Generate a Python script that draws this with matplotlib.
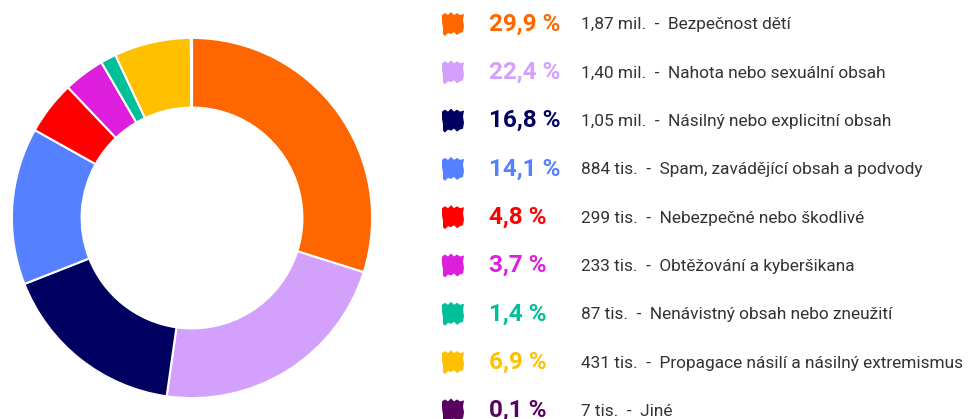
import matplotlib.pyplot as plt
from matplotlib.patches import Polygon

plt.rcParams['font.family'] = ['Roboto', 'DejaVu Sans']

labels = ['Bezpečnost dětí', 'Nahota nebo sexuální obsah', 'Násilný nebo explicitní obsah',
          'Spam, zavádějící obsah a podvody', 'Nebezpečné nebo škodlivé',
          'Obtěžování a kyberšikana', 'Nenávistný obsah nebo zneužití',
          'Propagace násilí a násilný extremismus', 'Jiné']
shares = [29.9, 22.4, 16.8, 14.1, 4.8, 3.7, 1.4, 6.9, 0.1]
counts = ['1,87 mil.', '1,40 mil.', '1,05 mil.', '884 tis.', '299 tis.', '233 tis.',
          '87 tis.', '431 tis.', '7 tis.']
colors = ['#FF6600', '#D3A0FC', '#000060', '#5580FF', '#FF0000', '#DD1EDD',
          '#00BF99', '#FFC000', '#5A0060']

W, H = 968, 419
fig = plt.figure(figsize=(W / 100, H / 100), dpi=100)

# donut
cx, cy, r = 192, 218, 181
ax = fig.add_axes([(cx - r) / W, (H - cy - r) / H, 2 * r / W, 2 * r / H])
ax.pie(shares, colors=colors, startangle=90, counterclock=False, radius=0.995,
       wedgeprops=dict(width=0.995 - 0.61, edgecolor='white', linewidth=1.5))
ax.set_xlim(-1, 1)
ax.set_ylim(-1, 1)
ax.set_aspect('equal')
ax.axis('off')

# legend in pixel coordinates
lax = fig.add_axes([0, 0, 1, 1])
lax.set_xlim(0, W)
lax.set_ylim(H, 0)
lax.axis('off')

brush = [(0, 3), (3, 1), (6, 3), (9, 0), (12, 3), (15, 1), (18, 3), (22, 2),
         (21, 8), (22, 14), (21, 20), (18, 21), (15, 23), (12, 20), (9, 22),
         (6, 21), (3, 24), (1, 22), (1, 16), (0, 10)]

y0, dy = 24, 48.3
for i, (lab, s, c, col) in enumerate(zip(labels, shares, counts, colors)):
    y = y0 + i * dy
    pts = [(442 + px, y - 12 + py) for px, py in brush]
    lax.add_patch(Polygon(pts, closed=True, facecolor=col, edgecolor='none'))
    lax.text(489, y, f'{s:.1f} %'.replace('.', ','), color=col, fontsize=17.5,
             fontweight='bold', va='center', ha='left')
    lax.text(581, y + 1, f'{c}  -  {lab}', color='#333333', fontsize=12.4,
             va='center', ha='left')

fig.savefig('out.png', dpi=100)
